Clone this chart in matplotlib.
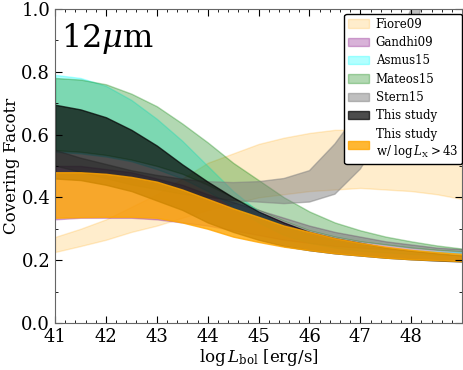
import numpy as np
import matplotlib
matplotlib.use("Agg")
import matplotlib.pyplot as plt
from matplotlib.ticker import MultipleLocator

plt.rcParams["font.family"] = ["DejaVu Serif"]
plt.rcParams["mathtext.fontset"] = "dejavuserif"
plt.rcParams["xtick.direction"] = "in"
plt.rcParams["ytick.direction"] = "in"
plt.rcParams["xtick.top"] = True
plt.rcParams["ytick.right"] = True

# log L_bol grid (read every 0.5 dex)
lbol = [41, 41.5, 42, 42.5, 43, 43.5, 44, 44.5, 45, 45.5, 46, 46.5, 47, 47.5, 48, 48.5, 49]

fiore_lo = [0.226, 0.245, 0.265, 0.29, 0.31, 0.335, 0.36, 0.38, 0.40, 0.41, 0.42, 0.425, 0.43, 0.425, 0.42, 0.41, 0.395]
fiore_hi = [0.274, 0.30, 0.33, 0.37, 0.41, 0.46, 0.51, 0.54, 0.57, 0.59, 0.605, 0.615, 0.615, 0.61, 0.60, 0.58, 0.56]

gandhi_lo = [0.33, 0.335, 0.335, 0.335, 0.33, 0.32, 0.31, 0.295, 0.28, 0.265, 0.255, 0.245, 0.24, 0.235, 0.23, 0.225, 0.222]
gandhi_hi = [0.50, 0.50, 0.49, 0.48, 0.46, 0.44, 0.41, 0.385, 0.36, 0.335, 0.31, 0.29, 0.275, 0.26, 0.25, 0.24, 0.235]

asmus_lo = [0.545, 0.54, 0.53, 0.515, 0.49, 0.46, 0.42, 0.37, 0.32, 0.28, 0.255, 0.24, 0.23, 0.225, 0.22, 0.217, 0.215]
asmus_hi = [0.79, 0.78, 0.755, 0.71, 0.65, 0.58, 0.50, 0.42, 0.355, 0.31, 0.28, 0.262, 0.25, 0.24, 0.232, 0.228, 0.225]

mateos_lo = [0.55, 0.545, 0.535, 0.52, 0.50, 0.475, 0.44, 0.40, 0.36, 0.325, 0.295, 0.275, 0.26, 0.25, 0.24, 0.233, 0.228]
mateos_hi = [0.78, 0.775, 0.76, 0.73, 0.69, 0.635, 0.575, 0.51, 0.455, 0.40, 0.355, 0.32, 0.295, 0.275, 0.26, 0.247, 0.237]

stern_lo = [0.50, 0.48, 0.46, 0.44, 0.425, 0.41, 0.40, 0.39, 0.385, 0.38, 0.385, 0.41, 0.49, 0.62, 0.88, 1.2, 1.6]
stern_hi = [0.55, 0.525, 0.505, 0.485, 0.47, 0.458, 0.45, 0.447, 0.45, 0.46, 0.485, 0.57, 0.68, 0.82, 1.0, 1.25, 1.6]

this_lo = [0.46, 0.455, 0.44, 0.42, 0.39, 0.36, 0.32, 0.29, 0.265, 0.245, 0.232, 0.222, 0.215, 0.208, 0.203, 0.199, 0.196]
this_hi = [0.695, 0.68, 0.655, 0.615, 0.565, 0.505, 0.45, 0.40, 0.355, 0.32, 0.29, 0.27, 0.255, 0.24, 0.23, 0.222, 0.215]

thisx_lo = [0.335, 0.337, 0.338, 0.338, 0.335, 0.32, 0.30, 0.275, 0.258, 0.243, 0.232, 0.222, 0.215, 0.208, 0.203, 0.20, 0.197]
thisx_hi = [0.48, 0.48, 0.475, 0.465, 0.45, 0.425, 0.395, 0.365, 0.338, 0.31, 0.29, 0.27, 0.255, 0.243, 0.233, 0.226, 0.22]

bands = [
    ("Fiore09", fiore_lo, fiore_hi, "orange", 0.2),
    ("Gandhi09", gandhi_lo, gandhi_hi, "purple", 0.3),
    ("Asmus15", asmus_lo, asmus_hi, "cyan", 0.3),
    ("Mateos15", mateos_lo, mateos_hi, "green", 0.3),
    ("Stern15", stern_lo, stern_hi, "gray", 0.5),
    ("This study", this_lo, this_hi, "black", 0.7),
    ("This study\nw/ $\\log L_{\\rm X}>43$", thisx_lo, thisx_hi, "orange", 0.8),
]

fig = plt.figure(figsize=(4.63, 3.70), dpi=100)
ax = fig.add_axes([0.119, 0.127, 0.879, 0.849])

for label, lo, hi, c, a in bands:
    ax.fill_between(lbol, lo, hi, color=c, alpha=a, lw=1, label=label)

ax.set_xlim(41, 49)
ax.set_ylim(0, 1)
ax.set_xticks([41, 42, 43, 44, 45, 46, 47, 48])
ax.set_yticks([0.0, 0.2, 0.4, 0.6, 0.8, 1.0])
ax.xaxis.set_minor_locator(MultipleLocator(0.2))
ax.yaxis.set_minor_locator(MultipleLocator(0.1))
ax.tick_params(which="major", length=5, labelsize=13)
ax.tick_params(which="minor", length=2.5)
for s in ax.spines.values():
    s.set_color("0.4")

ax.set_xlabel("$\\log L_{\\rm bol}$ [erg/s]", fontsize=12, labelpad=1)
ax.set_ylabel("Covering Facotr", fontsize=12, labelpad=1)
ax.text(0.015, 0.96, "12$\\mu$m", transform=ax.transAxes, fontsize=23, va="top", ha="left")

leg = ax.legend(loc="upper right", bbox_to_anchor=(1.0, 0.985), fontsize=8.5,
                fancybox=True, framealpha=1, borderaxespad=0, handlelength=1.7,
                handletextpad=0.6, labelspacing=0.45, borderpad=0.35)
leg.get_frame().set_edgecolor("black")

fig.savefig("out.png", dpi=100)
